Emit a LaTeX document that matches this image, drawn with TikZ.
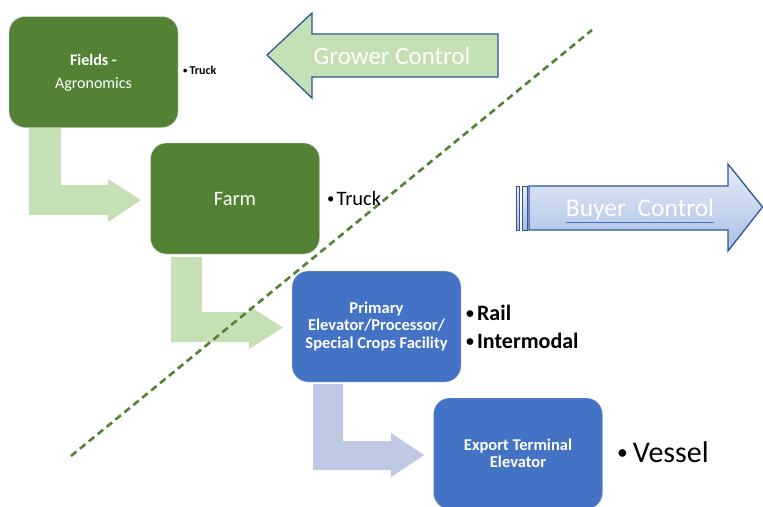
\documentclass[tikz,border=0pt]{standalone}
\usepackage{fontspec}
\setmainfont{Carlito}
\definecolor{boxgreen}{HTML}{548235}
\definecolor{boxblue}{HTML}{4472C4}
\definecolor{lightgreen}{HTML}{C5E0B4}
\definecolor{lightblue}{HTML}{BFC9E4}
\definecolor{arrowedge}{HTML}{2F5597}
\definecolor{buyertop}{HTML}{E6ECF7}
\definecolor{buyerbot}{HTML}{A9BEE4}
\newcommand{\smallbullet}{\raisebox{0.08em}{\scalebox{0.72}{•}}}
\tikzset{
  stagebox/.style={rounded corners=16pt, minimum width=169pt, minimum height=111pt,
    inner sep=0pt, text=white, align=center, draw=white!85!black, line width=0.4pt},
  greenbox/.style={stagebox, fill=boxgreen},
  bluebox/.style={stagebox, fill=boxblue},
  modelabel/.style={anchor=west, inner sep=0pt, text=black},
  ctrlarrow/.style={draw=arrowedge, line width=1.3pt, line join=miter},
  divider/.style={draw=boxgreen, line width=2.6pt, dash pattern=on 7pt off 4.5pt}
}
\begin{document}
\begin{tikzpicture}[x=1pt,y=-1pt]
\useasboundingbox (0,0) rectangle (763,506);
\clip (0,0) rectangle (763,506);
% bent flow arrows
\fill[lightgreen] (29,128) -- (61,128) -- (61,185) -- (108,185) -- (108,179) -- (141,200) -- (108,222) -- (108,215) -- (29,215) -- cycle;
\fill[lightgreen] (171,257) -- (202,257) -- (202,312) -- (249,312) -- (249,306) -- (283,327.5) -- (249,349) -- (249,342) -- (171,342) -- cycle;
\fill[lightblue] (313,384) -- (343,384) -- (343,441) -- (391,441) -- (391,433) -- (424,455) -- (391,477) -- (391,470) -- (313,470) -- cycle;
% dividing line
\coordinate (dlow) at (71,456);
\coordinate (dhigh) at (592,30);
\draw[divider] (dlow) -- (dhigh);
% stage boxes
\node[greenbox] (fields) at (93.5,72) {};
\node[text=white, align=center, font=\fontsize{16}{23}\selectfont] (fieldstext) at (93.5,72.5) {\textbf{Fields -}\\Agronomics};
\node[greenbox, font=\fontsize{20.5}{24}\selectfont] (farm) at (235,198.5) {Farm};
\node[bluebox, font=\bfseries\fontsize{16.5}{17.5}\selectfont] (primary) at (376.5,326.5) {Primary\\Elevator/Processor/\\Special Crops Facility};
\node[bluebox, font=\bfseries\fontsize{16.5}{17}\selectfont] (export) at (518,453.5) {Export Terminal\\Elevator};
% transport modes
\node[modelabel, font=\bfseries\fontsize{12}{14}\selectfont] (truck1) at (183,70) {\smallbullet\,Truck};
\node[modelabel, font=\fontsize{20.5}{24}\selectfont] (truck2) at (327,198) {\smallbullet\kern2pt Truck};
\node[modelabel, font=\bfseries\fontsize{22}{28}\selectfont] (rail) at (466,313) {\smallbullet\kern3pt Rail};
\node[modelabel, font=\bfseries\fontsize{22}{28}\selectfont] (intermodal) at (466,341) {\smallbullet\kern3pt Intermodal};
\node[modelabel, font=\fontsize{30}{34}\selectfont] (vessel) at (617,452) {\smallbullet\,Vessel};
% grower control arrow
\draw[ctrlarrow, fill=lightgreen] (498,34) -- (312,34) -- (312,13) -- (267,55) -- (312,98) -- (312,77) -- (498,77) -- cycle;
\node[text=white, font=\fontsize{25}{30}\selectfont] (grower) at (392,56) {Grower Control};
% buyer control arrow
\draw[ctrlarrow, top color=buyertop, bottom color=buyerbot, line width=1pt] (516,186) rectangle (519.5,230);
\draw[ctrlarrow, top color=buyertop, bottom color=buyerbot, line width=1pt] (522,186) rectangle (527,230);
\draw[ctrlarrow, top color=buyertop, bottom color=buyerbot] (529,186) -- (728,186) -- (728,164) -- (762.5,207) -- (728,251) -- (728,230) -- (529,230) -- cycle;
\node[text=white, font=\fontsize{25.5}{30}\selectfont, inner sep=0pt] (buyer) at (640,210) {Buyer\ \ Control};
\coordinate (ul1) at ([yshift=-1.5pt]buyer.south west);
\coordinate (ul2) at ([yshift=-1.5pt]buyer.south east);
\draw[boxblue, line width=1pt] (ul1) -- (ul2);
\end{tikzpicture}
\end{document}
